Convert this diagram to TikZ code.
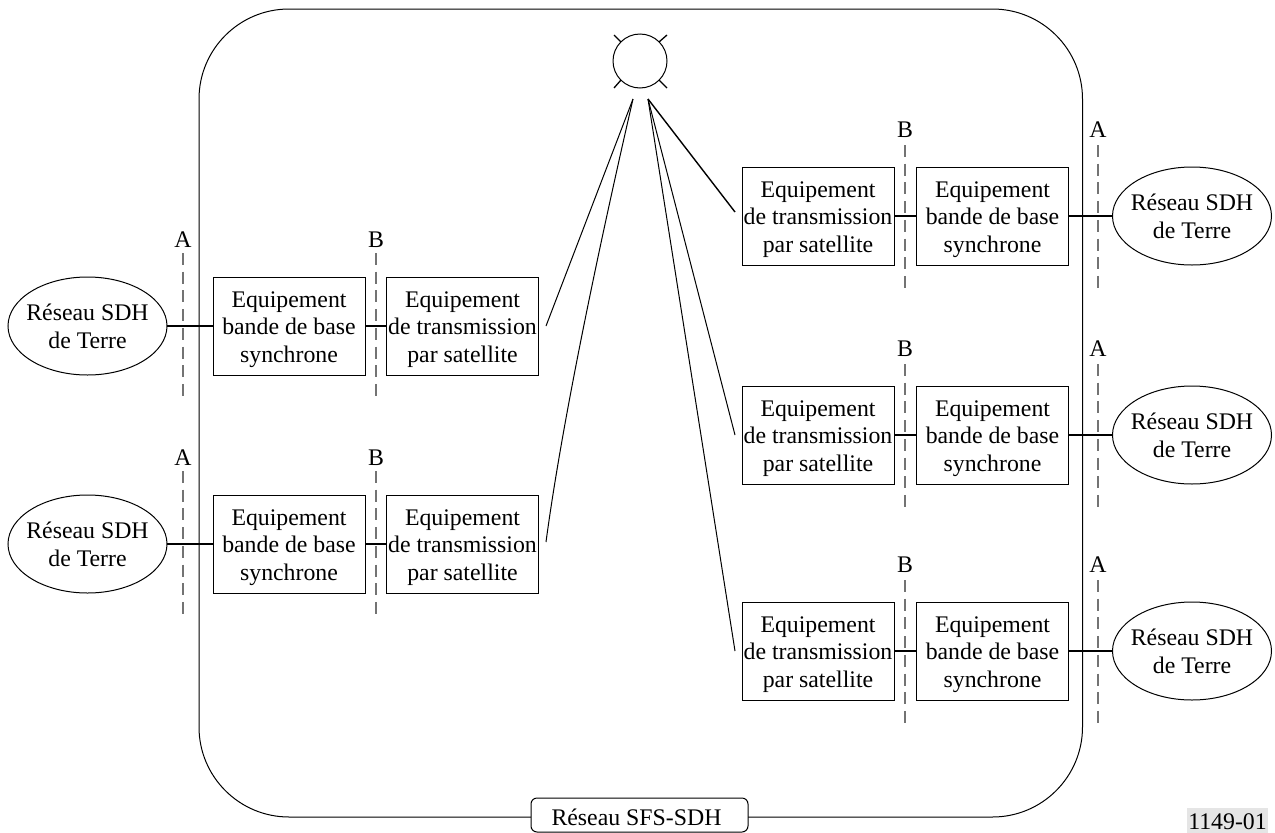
\documentclass[tikz,border=0pt]{standalone}
\usepackage{fontspec}
\setmainfont{Liberation Serif}
\usetikzlibrary{shapes.geometric}
\tikzset{
  x=1pt,y=-1pt,
  every node/.style={inner sep=0pt,outer sep=0pt},
  txt/.style={font=\fontsize{23.8}{27.8}\selectfont,align=center},
  boxn/.style={draw=black,line width=1pt,minimum width=152pt,minimum height=98pt,label={[txt,yshift=-3.5pt]center:{#1}}},
  terre/.style={draw=black,ellipse,line width=1pt,minimum width=159pt,minimum height=98pt,label={[txt]center:{Réseau SDH\\de Terre}}},
  thin line/.style={line width=1pt,draw=black},
  tick line/.style={line width=1.3pt,draw=black},
  thick link/.style={line width=1.7pt,draw=black},
  frame line/.style={line width=1pt,draw=black},
  refline/.style={line width=1.3pt,draw=black!55,dash pattern=on 12pt off 6.7pt},
  reflabel/.style={txt,anchor=base},
}
\begin{document}
\begin{tikzpicture}
\useasboundingbox (0,0) rectangle (1275,833);
\draw[frame line,rounded corners=90pt] (199,9) rectangle (1082.5,817);
\node[draw=black,fill=white,line width=1pt,rounded corners=6pt,minimum width=217pt,minimum height=34pt,label={[txt,xshift=-3pt,yshift=-2pt]center:{Réseau SFS-SDH}}] (sfs) at (639.5,815) {};
\node[fill=black!10,minimum width=81pt,minimum height=25pt,label={[txt,yshift=-1.5pt]center:{1149-01}}] (ref) at (1227.5,820.5) {};
% satellite
\node[circle,draw=black,line width=1pt,minimum size=54pt] (sat) at (640,61) {};
\coordinate (t1) at (614,35);\coordinate (t2) at (667,35);\coordinate (t3) at (614,88);\coordinate (t4) at (667,88);
\draw[tick line] (sat.135) -- (t1);
\draw[tick line] (sat.45) -- (t2);
\draw[tick line] (sat.225) -- (t3);
\draw[tick line] (sat.315) -- (t4);
\coordinate (sl) at (633,99);\coordinate (sr) at (648,99);
% left rows
\foreach \n/\cy in {L1/326,L2/544}{
  \node[terre] (\n net) at (87.5,\cy) {};
  \node[boxn={Equipement\\bande de base\\synchrone}] (\n bb) at (289,\cy) {};
  \node[boxn={Equipement\\de transmission\\par satellite}] (\n tx) at (462.5,\cy) {};
  \draw[thick link] (\n net.east) -- (\n bb.west);
  \draw[thick link] (\n bb.east) -- (\n tx.west);
  \coordinate (\n at) at (183,\cy-73);\coordinate (\n ab) at (183,\cy+72);
  \coordinate (\n bt) at (376,\cy-73);\coordinate (\n bb2) at (376,\cy+72);
  \draw[refline] (\n at) -- (\n ab);
  \draw[refline] (\n bt) -- (\n bb2);
  \node[reflabel] (\n A) at (183,\cy-79) {A};
  \node[reflabel] (\n B) at (376,\cy-79) {B};
}
% right rows
\foreach \n/\cy in {R1/216,R2/435,R3/651}{
  \node[terre] (\n net) at (1192,\cy) {};
  \node[boxn={Equipement\\bande de base\\synchrone}] (\n bb) at (992.5,\cy) {};
  \node[boxn={Equipement\\de transmission\\par satellite}] (\n tx) at (818,\cy) {};
  \draw[thick link] (\n tx.east) -- (\n bb.west);
  \draw[thick link] (\n bb.east) -- (\n net.west);
  \coordinate (\n at) at (1098,\cy-71);\coordinate (\n ab) at (1098,\cy+72);
  \coordinate (\n bt) at (905,\cy-71);\coordinate (\n bb2) at (905,\cy+72);
  \draw[refline] (\n at) -- (\n ab);
  \draw[refline] (\n bt) -- (\n bb2);
  \node[reflabel] (\n A) at (1098,\cy-79) {A};
  \node[reflabel] (\n B) at (905,\cy-79) {B};
}
% satellite links
\coordinate (eL1) at (546,326);\coordinate (eL2) at (546,542);
\coordinate (eR1) at (735,212);\coordinate (eR2) at (735,435);\coordinate (eR3) at (735,651);
\draw[thin line] (sl) -- (eL1);
\draw[thin line] (sl) .. controls (612,190) and (565,400) .. (eL2);
\draw[line width=1.4pt] (sr) -- (eR1);
\draw[thin line] (sr) -- (eR2);
\draw[thin line] (sr) -- (eR3);
\end{tikzpicture}
\end{document}
